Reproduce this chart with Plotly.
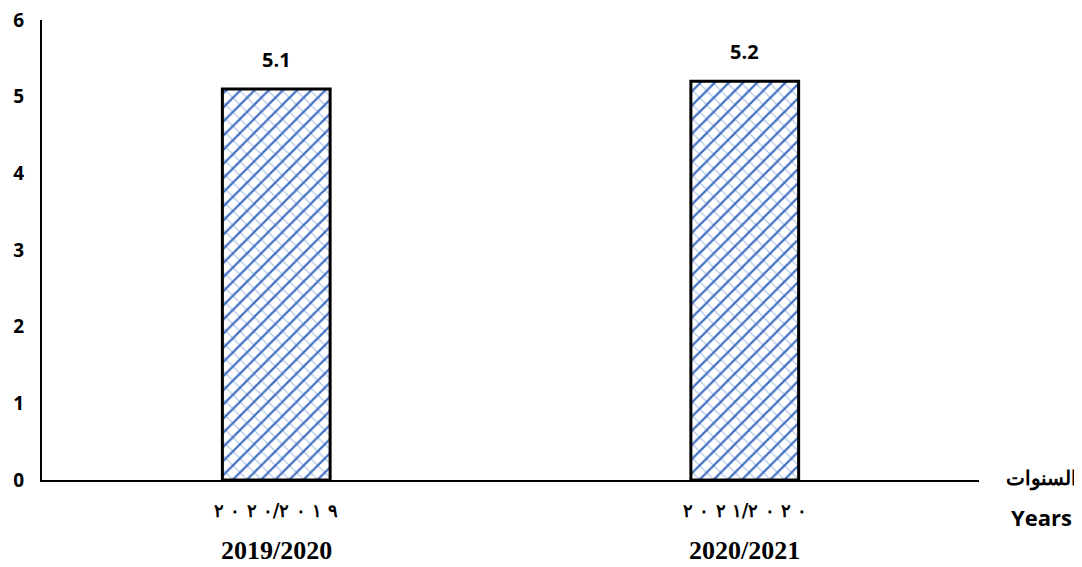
import plotly.graph_objects as go

categories = ["2019/2020", "2020/2021"]
values = [5.1, 5.2]
arabic_labels = ["٢٠٢٠/٢٠١٩", "٢٠٢١/٢٠٢٠"]
latin_labels = ["2019/2020", "2020/2021"]
y_ticks = [0, 1, 2, 3, 4, 5, 6]

# page body has an 8px margin: work in screen coords minus 8
OFF = 8
W, H = 1082 - OFF, 567 - OFF
l, t = 42 - OFF, 20 - OFF
plot_right, plot_bottom = 979 - OFF, 480 - OFF
r, b = W - plot_right, H - plot_bottom
pw, ph = plot_right - l, plot_bottom - t

fig = go.Figure()
fig.add_trace(go.Bar(
    x=categories, y=values,
    marker=dict(
        color="white",
        line=dict(color="black", width=0),
        pattern=dict(shape="\\", fgcolor="#4472C4", bgcolor="white",
                     size=10, solidity=0.12, fgopacity=0.4, fillmode="overlay"),
    ),
    width=0.23, showlegend=False, hoverinfo="skip",
))
fig.add_trace(go.Bar(
    x=categories, y=values,
    marker=dict(
        color="rgba(0,0,0,0)",
        line=dict(color="black", width=3),
        pattern=dict(shape="/", fgcolor="#4472C4", bgcolor="rgba(0,0,0,0)",
                     size=10, solidity=0.22, fgopacity=1, fillmode="overlay"),
    ),
    width=0.23,
    showlegend=False,
))

# value labels, positioned from the data through the axes
for cat, v in zip(categories, values):
    fig.add_annotation(x=cat, y=v, xref="x", yref="y", yanchor="middle", yshift=30,
                       text=f"<b>{v}</b>", showarrow=False,
                       font=dict(family="Open Sans", size=20, color="black"))


def spaced(s):
    return "\u202D" + " ".join(list(s)).replace(" / ", "/") + "\u202C"


for cat, ar, la in zip(categories, arabic_labels, latin_labels):
    fig.add_annotation(x=cat, y=0, xref="x", yref="paper", yanchor="middle",
                       yshift=-30, text="<b>" + spaced(ar) + "</b>", showarrow=False,
                       font=dict(family="DejaVu Serif", size=18, color="black"))
    fig.add_annotation(x=cat, y=0, xref="x", yref="paper", yanchor="middle",
                       yshift=-70, text="<b>" + la + "</b>", showarrow=False,
                       font=dict(family="Liberation Serif", size=26, color="black"))

fig.add_annotation(x=(1041 - OFF - l) / pw, y=(plot_bottom - (477 - OFF)) / ph,
                   xref="paper", yref="paper", xanchor="center", yanchor="middle",
                   text="<b>السنوات</b>", showarrow=False,
                   font=dict(family="Noto Sans", size=20, color="black"))
fig.add_annotation(x=(1041 - OFF - l) / pw, y=(plot_bottom - (517 - OFF)) / ph,
                   xref="paper", yref="paper", xanchor="center", yanchor="middle",
                   text="<b>Years</b>", showarrow=False,
                   font=dict(family="Open Sans", size=22, color="black"))

fig.update_layout(
    width=W, height=H,
    margin=dict(l=l, r=r, t=t, b=b, autoexpand=False),
    barmode="overlay",
    plot_bgcolor="white", paper_bgcolor="white",
    xaxis=dict(showline=True, linecolor="black", linewidth=2, showticklabels=False,
               ticks="", showgrid=False, zeroline=False, automargin=False),
    yaxis=dict(range=[0, 6], tickvals=y_ticks, ticktext=[f"<b>{v}</b>" for v in y_ticks],
               showline=True, linecolor="black",
               linewidth=2, showgrid=False, zeroline=False, ticks="",
               ticklabelstandoff=12, automargin=False, ticklabeloverflow="allow",
               tickfont=dict(family="Open Sans", size=19, color="black")),
)

fig.write_html("out.html")
